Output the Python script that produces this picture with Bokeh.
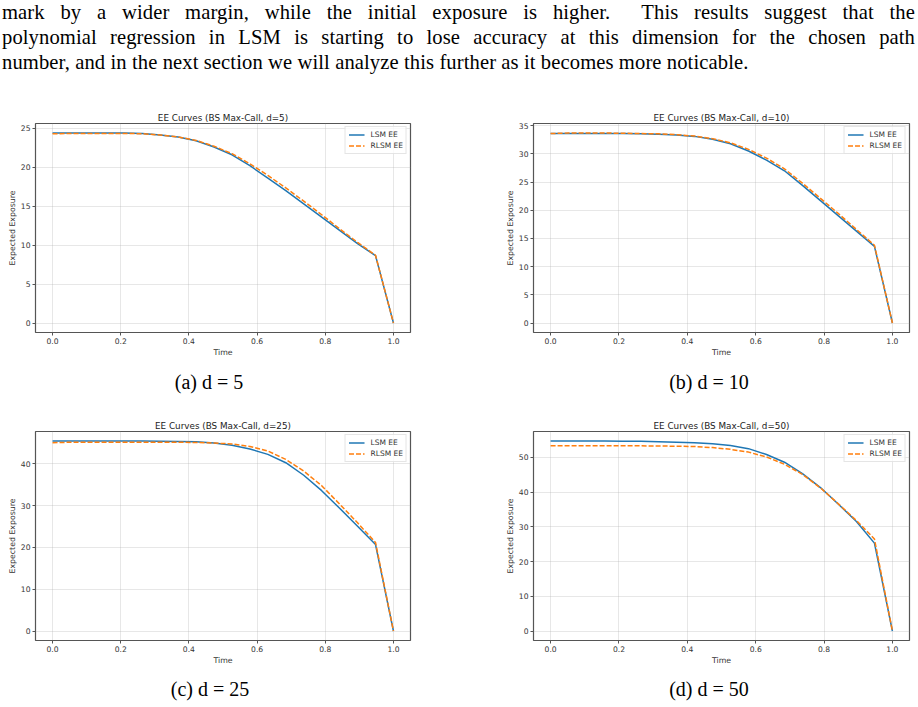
from bokeh.plotting import figure
from bokeh.models import Div, Range1d, Legend, LegendItem, FixedTicker, PrintfTickFormatter
from bokeh.layouts import column, row
from bokeh.embed import file_html
from bokeh.resources import INLINE

# ---------------- data ----------------
time = [0.0, 0.0526, 0.1053, 0.1579, 0.2105, 0.2632, 0.3158, 0.3684, 0.4211, 0.4737,
        0.5263, 0.5789, 0.6316, 0.6842, 0.7368, 0.7895, 0.8421, 0.8947, 0.9474, 1.0]

lsm_d5 = [24.4, 24.4, 24.4, 24.4, 24.4, 24.35, 24.15, 23.9, 23.4, 22.6,
          21.6, 20.2, 18.6, 17.0, 15.3, 13.6, 11.9, 10.2, 8.65, 0.0]
rlsm_d5 = [24.3, 24.35, 24.35, 24.35, 24.35, 24.3, 24.15, 23.9, 23.45, 22.7,
           21.75, 20.45, 18.95, 17.35, 15.65, 13.9, 12.1, 10.35, 8.7, 0.0]

lsm_d10 = [33.6, 33.6, 33.6, 33.6, 33.6, 33.55, 33.5, 33.35, 33.1, 32.6,
           31.8, 30.5, 28.9, 27.0, 24.4, 21.7, 19.0, 16.3, 13.6, 0.0]
rlsm_d10 = [33.6, 33.7, 33.7, 33.7, 33.65, 33.6, 33.55, 33.4, 33.15, 32.7,
            31.95, 30.8, 29.25, 27.35, 24.8, 22.1, 19.4, 16.6, 13.8, 0.0]

lsm_d25 = [45.5, 45.5, 45.5, 45.5, 45.5, 45.5, 45.45, 45.4, 45.3, 45.0,
           44.5, 43.6, 42.3, 40.3, 37.3, 33.6, 29.4, 25.1, 20.7, 0.0]
rlsm_d25 = [45.1, 45.2, 45.2, 45.2, 45.2, 45.2, 45.2, 45.2, 45.15, 45.0,
            44.8, 44.2, 43.1, 41.1, 38.3, 34.8, 30.4, 25.9, 21.2, 0.0]

lsm_d50 = [54.7, 54.7, 54.7, 54.7, 54.65, 54.6, 54.5, 54.35, 54.2, 53.9,
           53.4, 52.5, 50.8, 48.6, 45.3, 41.3, 36.5, 31.5, 25.3, 0.0]
rlsm_d50 = [53.3, 53.3, 53.3, 53.3, 53.3, 53.3, 53.25, 53.2, 53.1, 52.8,
            52.3, 51.5, 50.1, 48.0, 45.1, 41.2, 36.6, 31.8, 26.5, 0.0]

x_ticks = [0.0, 0.2, 0.4, 0.6, 0.8, 1.0]
y_ticks_d5 = [0, 5, 10, 15, 20, 25]
y_ticks_d10 = [0, 5, 10, 15, 20, 25, 30, 35]
y_ticks_d25 = [0, 10, 20, 30, 40]
y_ticks_d50 = [0, 10, 20, 30, 40, 50]

titles = ["EE Curves (BS Max-Call, d=5)", "EE Curves (BS Max-Call, d=10)",
          "EE Curves (BS Max-Call, d=25)", "EE Curves (BS Max-Call, d=50)"]
captions = [("(a)", "5"), ("(b)", "10"), ("(c)", "25"), ("(d)", "50")]
legend_labels = ["LSM EE", "RLSM EE"]

paragraph_lines = [
    "mark by a wider margin, while the initial exposure is higher.&nbsp; This results suggest that the",
    "polynomial regression in LSM is starting to lose accuracy at this dimension for the chosen path",
    "number, and in the next section we will analyze this further as it becomes more noticable.",
]

BLUE = "#1f77b4"
ORANGE = "#ff7f0e"
SANS = "DejaVu Sans"
SERIF = "Liberation Serif"


def make_panel(title, lsm, rlsm, yticks, width, height, bl, br, bt, bb):
    allv = lsm + rlsm
    lo, hi = min(allv), max(allv)
    pad = 0.05 * (hi - lo)
    p = figure(width=width, height=height, output_backend="svg", toolbar_location=None,
               x_range=Range1d(-0.05, 1.05), y_range=Range1d(lo - pad, hi + pad),
               min_border_left=bl, min_border_right=br, min_border_top=bt, min_border_bottom=bb,
               background_fill_color="white", border_fill_color="white")
    p.title.text = title
    p.title.align = "center"
    p.title.text_font = SANS
    p.title.text_font_size = "8.8px"
    p.title.text_font_style = "normal"
    p.title.text_color = "#222222"
    p.title.standoff = 2

    p.outline_line_color = "#555555"
    p.outline_line_width = 1.2

    for ax in (p.xaxis[0], p.yaxis[0]):
        ax.axis_line_color = None
        ax.major_tick_line_color = "#555555"
        ax.major_tick_out = 3
        ax.major_tick_in = 0
        ax.minor_tick_line_color = None
        ax.major_label_text_font = SANS
        ax.major_label_text_font_size = "7.6px"
        ax.major_label_text_color = "#333333"
        ax.major_label_standoff = 2
        ax.axis_label_text_font = SANS
        ax.axis_label_text_font_size = "7.8px"
        ax.axis_label_text_font_style = "normal"
        ax.axis_label_text_color = "#333333"
        ax.axis_label_standoff = 1

    p.xaxis[0].ticker = FixedTicker(ticks=x_ticks)
    p.xaxis[0].formatter = PrintfTickFormatter(format="%.1f")
    p.yaxis[0].ticker = FixedTicker(ticks=yticks)
    p.xaxis[0].axis_label = "Time"
    p.yaxis[0].axis_label = "Expected Exposure"

    p.xgrid.grid_line_color = "#b0b0b0"
    p.ygrid.grid_line_color = "#b0b0b0"
    p.xgrid.grid_line_alpha = 0.3
    p.ygrid.grid_line_alpha = 0.3
    p.xgrid.ticker = FixedTicker(ticks=x_ticks)
    p.ygrid.ticker = FixedTicker(ticks=yticks)

    r1 = p.line(time, lsm, line_color=BLUE, line_width=1.5)
    r2 = p.line(time, rlsm, line_color=ORANGE, line_width=1.5, line_dash="5 2")

    legend = Legend(items=[LegendItem(label=legend_labels[0], renderers=[r1]),
                           LegendItem(label=legend_labels[1], renderers=[r2])],
                    location="top_right")
    legend.label_text_font = SANS
    legend.label_text_font_size = "7.5px"
    legend.label_text_color = "#333333"
    legend.label_height = 9
    legend.glyph_height = 9
    legend.glyph_width = 16
    legend.label_standoff = 6
    legend.spacing = 2
    legend.padding = 3
    legend.margin = 3
    legend.border_line_color = "#cccccc"
    legend.border_line_width = 1
    legend.background_fill_alpha = 0.8
    p.add_layout(legend)
    return p


def make_caption(cap, center, width, height):
    text = '%s d<span style="margin:0 5px">=</span>%s' % cap
    html = ('<div style="margin-left:%dpx;width:200px;text-align:center;'
            'font-family:\'%s\',serif;font-size:20px;line-height:%dpx;color:#000;">%s</div>'
            % (center - 100, SERIF, height, text))
    return Div(text=html, width=width, height=height, margin=0)


line_html = []
for i, ln in enumerate(paragraph_lines):
    last = "justify" if i < len(paragraph_lines) - 1 else "left"
    line_html.append('<div style="text-align:justify;text-align-last:%s;white-space:nowrap;">%s</div>'
                     % (last, ln))
para = Div(text=('<div style="width:913px;margin-left:2px;font-family:\'%s\',serif;'
                 'font-size:20.6px;letter-spacing:0.1px;line-height:25px;color:#000;">%s</div>')
           % (SERIF, "".join(line_html)),
           width=918, height=92, margin=0)

pa = make_panel(titles[0], lsm_d5, rlsm_d5, y_ticks_d5, 459, 273, 35, 49, 31, 33)
pb = make_panel(titles[1], lsm_d10, rlsm_d10, y_ticks_d10, 459, 273, 74, 9, 31, 33)
pc = make_panel(titles[2], lsm_d25, rlsm_d25, y_ticks_d25, 459, 272, 35, 49, 31, 32)
pd = make_panel(titles[3], lsm_d50, rlsm_d50, y_ticks_d50, 459, 272, 74, 9, 31, 32)

ca = make_caption(captions[0], 209, 459, 35)
cb = make_caption(captions[1], 250, 459, 35)
cc = make_caption(captions[2], 210, 459, 35)
cd = make_caption(captions[3], 250, 459, 35)

layout = column(
    para,
    row(column(pa, ca, spacing=0), column(pb, cb, spacing=0), spacing=0),
    row(column(pc, cc, spacing=0), column(pd, cd, spacing=0), spacing=0),
    spacing=0,
)

open("out.html", "w").write(file_html(layout, INLINE))
